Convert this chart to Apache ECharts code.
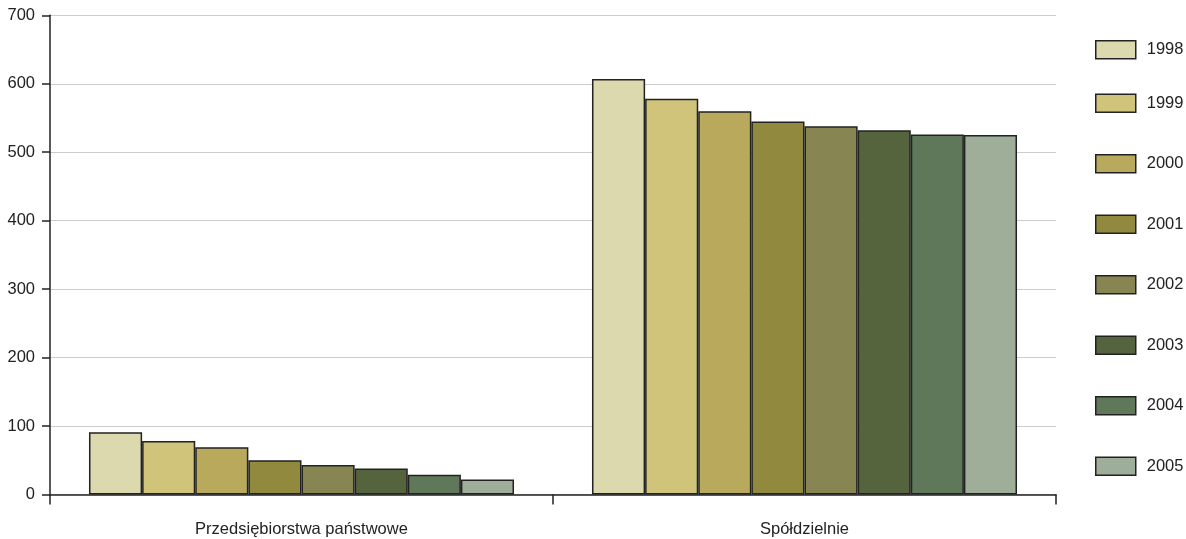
<!DOCTYPE html>
<html>
<head>
<meta charset="utf-8">
<script src="https://cdn.jsdelivr.net/npm/echarts@6/dist/echarts.min.js"></script>
<style>html,body{margin:0;padding:0;background:#fff}#c{width:1186px;height:539px}</style>
</head>
<body>
<div id="c"></div>
<script>
const categories = ['Przedsiębiorstwa państwowe', 'Spółdzielnie'];
const years = ['1998', '1999', '2000', '2001', '2002', '2003', '2004', '2005'];
const v1998 = [91, 607];
const v1999 = [78, 578];
const v2000 = [69, 560];
const v2001 = [50, 545];
const v2002 = [43, 538];
const v2003 = [38, 532];
const v2004 = [29, 526];
const v2005 = [22, 525];
const colors = ['#dcd9ae', '#cfc47a', '#b8a95c', '#918a3e', '#878653', '#55643d', '#5f785a', '#9eae99'];
const seriesValues = [v1998, v1999, v2000, v2001, v2002, v2003, v2004, v2005];

const chart = echarts.init(document.getElementById('c'));
const fontFamily = '"Liberation Sans", Arial, sans-serif';
const legendBase = {
  orient: 'vertical', left: 1095, padding: 0, icon: 'rect',
  itemWidth: 40, itemHeight: 18, itemGap: 41,
  itemStyle: { borderColor: '#222', borderWidth: 1.5 },
  textStyle: { fontSize: 16.5, color: '#222', fontFamily: fontFamily, padding: [0, 0, 0, 6] }
};
chart.setOption({
  animation: false,
  grid: { left: 50, right: 130, top: 15.3, bottom: 44.5, containLabel: false },
  legend: [
    Object.assign({}, legendBase, { data: [years[0]], top: 40 }),
    Object.assign({}, legendBase, { data: years.slice(1), top: 93.5 })
  ],
  xAxis: {
    type: 'category',
    data: categories,
    axisLine: { lineStyle: { color: '#222', width: 1.5 } },
    axisTick: { show: true, length: 10, lineStyle: { color: '#222', width: 1.5 } },
    axisLabel: { fontSize: 16.5, color: '#222', margin: 26, fontFamily: fontFamily }
  },
  yAxis: {
    type: 'value', min: 0, max: 700, interval: 100,
    axisLine: { show: true, lineStyle: { color: '#222', width: 1.5 } },
    axisTick: { show: true, length: 8, lineStyle: { color: '#222', width: 1.5 } },
    axisLabel: { fontSize: 16.5, color: '#222', margin: 15, fontFamily: fontFamily },
    splitLine: { lineStyle: { color: '#cccccc', width: 1 } }
  },
  series: years.map((y, i) => ({
    name: y,
    type: 'bar',
    data: seriesValues[i],
    barGap: '0%',
    barCategoryGap: '15.5%',
    itemStyle: { color: colors[i], borderColor: '#222', borderWidth: 1.5 }
  }))
});
</script>
</body>
</html>
